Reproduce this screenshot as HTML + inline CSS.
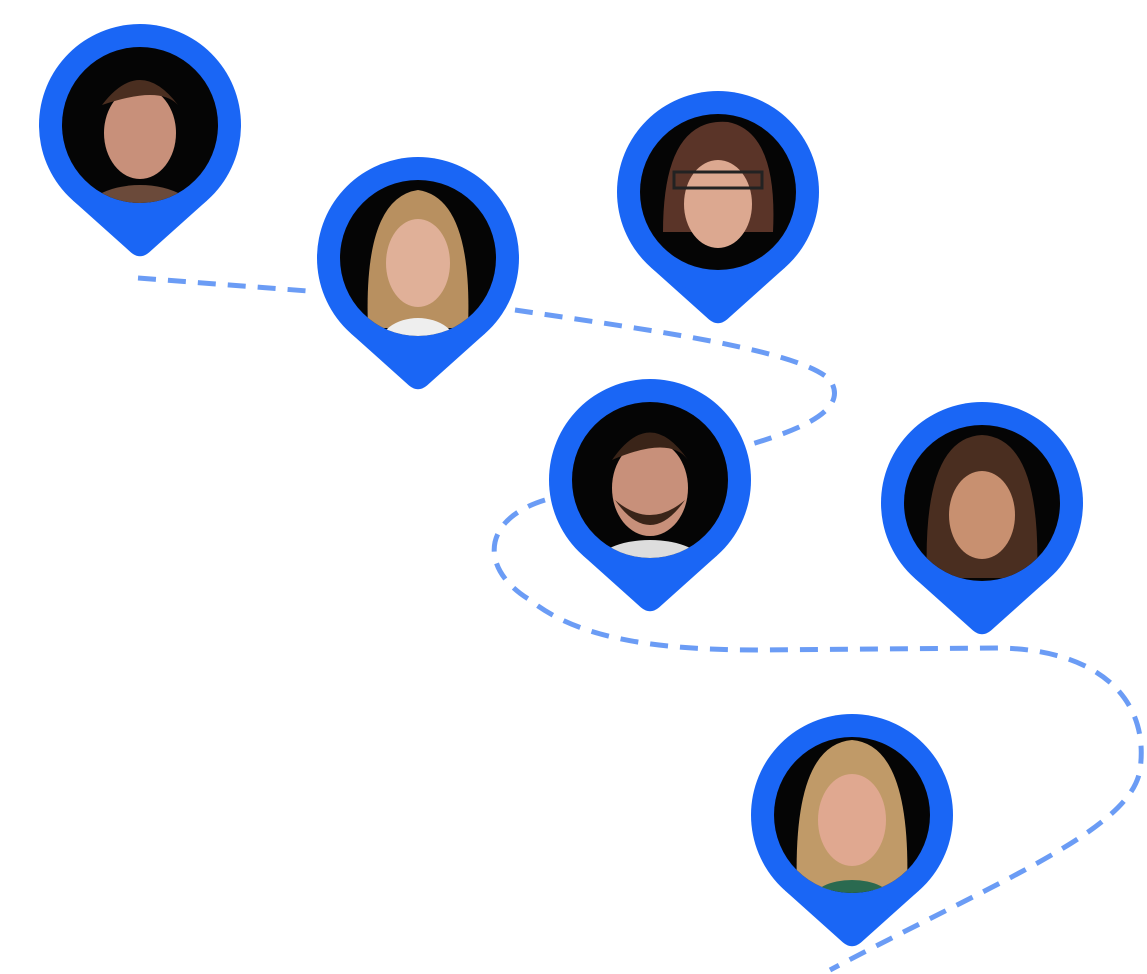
<!DOCTYPE html>
<html><head><meta charset="utf-8"><style>
html,body{margin:0;padding:0;background:#fff;}
svg{display:block;}
</style></head><body>
<svg width="1147" height="974" viewBox="0 0 1147 974" xmlns="http://www.w3.org/2000/svg">
<defs>
<g id="pin">
  <path d="M -67 75.5 L -9 127.5 Q 0 135 9 127.5 L 67 75.5 Z" fill="#1a66f5"/>
  <circle cx="0" cy="0" r="101" fill="#1a66f5"/>
  <circle cx="0" cy="0" r="78" fill="#050505"/>
</g>
<clipPath id="c"><circle cx="0" cy="0" r="78"/></clipPath>
</defs>
<path d="M138 278 L308 291 M515 310 C650 330 800 350 830 380 C850 410 800 430 745 446 M545 500 C480 520 480 570 530 600 C580 640 660 650 760 650 L1000 648 C1100 650 1150 700 1140 770 C1130 830 1000 880 830 970"
 fill="none" stroke="#6b9cf5" stroke-width="5" stroke-dasharray="18 12"/>
<g>
<g transform="translate(140,125)"><use href="#pin"/><g clip-path="url(#c)"><ellipse cx="0" cy="95" rx="60" ry="35" fill="#6b4a3a"/><ellipse cx="0" cy="8" rx="36" ry="46" fill="#c8907a"/><path d="M-38 -20 Q0 -70 38 -20 Q20 -40 -38 -20Z" fill="#4a2e20"/></g></g>
<g transform="translate(418,258)"><use href="#pin"/><g clip-path="url(#c)"><path d="M-50 70 Q-55 -60 0 -68 Q55 -60 50 70Z" fill="#b89060"/><ellipse cx="0" cy="90" rx="40" ry="30" fill="#eee"/><ellipse cx="0" cy="5" rx="32" ry="44" fill="#e0b098"/></g></g>
<g transform="translate(718,192)"><use href="#pin"/><g clip-path="url(#c)"><path d="M-55 40 Q-55 -75 10 -70 Q60 -60 55 40Z" fill="#5a3428"/><ellipse cx="0" cy="12" rx="34" ry="44" fill="#dca890"/><rect x="-44" y="-20" width="88" height="16" fill="none" stroke="#222" stroke-width="3"/></g></g>
<g transform="translate(650,480)"><use href="#pin"/><g clip-path="url(#c)"><ellipse cx="0" cy="85" rx="55" ry="25" fill="#ddd"/><ellipse cx="0" cy="8" rx="38" ry="48" fill="#c8907a"/><path d="M-38 -20 Q0 -75 38 -20 Q20 -45 -38 -20Z" fill="#3a2418"/><path d="M-35 20 Q0 70 35 20 Q0 50 -35 20Z" fill="#3a2418"/></g></g>
<g transform="translate(982,503)"><use href="#pin"/><g clip-path="url(#c)"><path d="M-55 75 Q-60 -65 0 -68 Q60 -65 55 75Z" fill="#4a2e20"/><ellipse cx="0" cy="12" rx="33" ry="44" fill="#c89070"/></g></g>
<g transform="translate(852,815)"><use href="#pin"/><g clip-path="url(#c)"><path d="M-55 75 Q-60 -70 0 -75 Q60 -70 55 75Z" fill="#c09a68"/><ellipse cx="0" cy="85" rx="40" ry="20" fill="#2a6a50"/><ellipse cx="0" cy="5" rx="34" ry="46" fill="#e0a890"/></g></g>
</g>
</svg>
</body></html>
